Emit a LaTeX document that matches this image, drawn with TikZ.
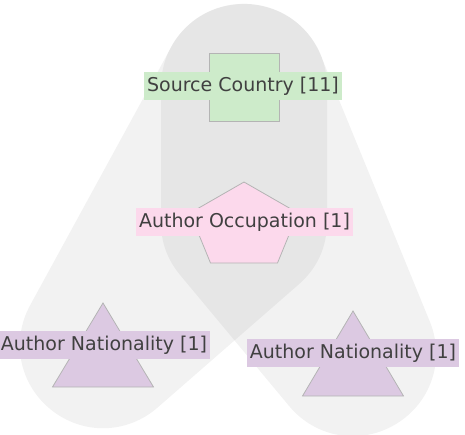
\documentclass[tikz,border=0pt]{standalone}
\usepackage{fontspec}
\setmainfont{DejaVu Sans}
\usepackage{xcolor}
\usetikzlibrary{calc}
\definecolor{countrygreen}{HTML}{CDEBCA}
\definecolor{occpink}{HTML}{FCD9EC}
\definecolor{natpurple}{HTML}{DCC9E2}
\definecolor{edgegray}{HTML}{B4B4B4}
\definecolor{textgray}{HTML}{404040}
\tikzset{
  hull/.style={draw=black, draw opacity=0.05, line width=166pt, line cap=round, line join=round},
  glyph/.style={draw=edgegray, line width=0.8pt},
  tag/.style={inner xsep=3pt, inner ysep=0pt, minimum height=28pt, text=textgray,
    font=\fontsize{19}{21}\selectfont}
}

\begin{document}
\begin{tikzpicture}[x=1pt,y=-1pt]
\useasboundingbox (0,0) rectangle (465,434);
\coordinate (src) at (244,87);
\coordinate (occ) at (244,222);
\coordinate (lan) at (103,345);
\coordinate (ran) at (353,353);
% groups
\draw[hull] (src) -- (occ) -- (lan) -- cycle;
\draw[hull] (src) -- (occ) -- (ran) -- cycle;
% glyphs
\draw[glyph, fill=countrygreen] ($(src)+(-35,-34)$) rectangle ($(src)+(35,34)$);
\draw[glyph, fill=occpink] ($(occ)+(0,-40)$) -- ($(occ)+(54,-9)$) -- ($(occ)+(33.5,41)$)
  -- ($(occ)+(-33.5,41)$) -- ($(occ)+(-54,-9)$) -- cycle;
\draw[glyph, fill=natpurple] ($(lan)+(0,-42)$) -- ($(lan)+(50.5,42)$) -- ($(lan)+(-50.5,42)$) -- cycle;
\draw[glyph, fill=natpurple] ($(ran)+(0,-42)$) -- ($(ran)+(50.5,43)$) -- ($(ran)+(-50.5,43)$) -- cycle;
% labels
\node[tag, fill=countrygreen] (srctag) at ($(src)+(-1,-1)$) {Source Country [11]};
\node[tag, fill=occpink] (occtag) at ($(occ)+(0.5,0)$) {Author Occupation [1]};
\node[tag, fill=natpurple] (lantag) at ($(lan)+(1,0)$) {Author Nationality [1]};
\node[tag, fill=natpurple] (rantag) at (ran) {Author Nationality [1]};
\end{tikzpicture}
\end{document}
